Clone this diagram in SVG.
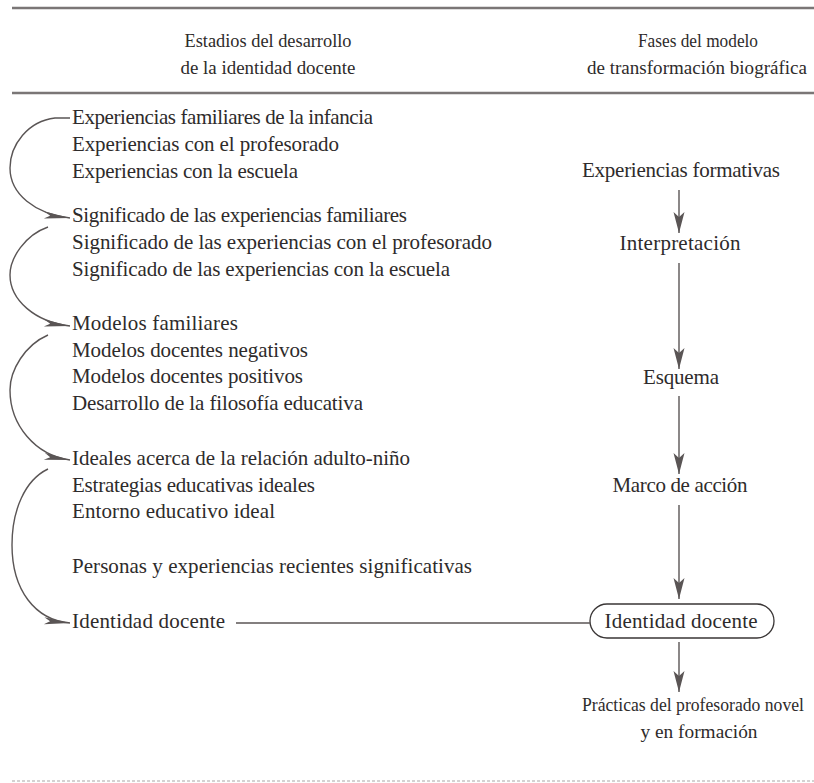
<svg xmlns="http://www.w3.org/2000/svg" width="814" height="783" viewBox="0 0 814 783">
<defs>
<style>
text{font-family:"Liberation Serif","DejaVu Serif",serif;font-size:21px;fill:#2e2b2b}
.h{font-size:19.5px}
.p{font-size:18px}
.c{text-anchor:middle}
.rule{stroke:#7a7676;stroke-width:2.5}
.ln{fill:none;stroke:#5a5555;stroke-width:1.4}
</style>
<marker id="ah" markerUnits="userSpaceOnUse" markerWidth="24" markerHeight="14" viewBox="-22 -7 24 14" refX="0" refY="0" orient="auto">
<path d="M0,0 L-21,-5.5 L-16,0 L-21,5.5 Z" fill="#5a5555"/>
</marker>
<marker id="ahc" markerUnits="userSpaceOnUse" markerWidth="30" markerHeight="10" viewBox="-28 -5 30 10" refX="0" refY="0" orient="auto">
<path d="M0,0 L-26,-3.5 L-20,0 L-26,3.5 Z" fill="#5a5555"/>
</marker>
</defs>
<rect width="814" height="783" fill="#ffffff"/>
<line class="rule" x1="12" y1="8" x2="814" y2="8"/>
<line class="rule" x1="12" y1="93" x2="814" y2="93"/>
<line x1="12" y1="781" x2="814" y2="781" stroke="#c8c4c4" stroke-width="1.5" stroke-dasharray="3 2"/>
<g id="header-left">
<text class="c h" x="268" y="47" textLength="167" lengthAdjust="spacingAndGlyphs">Estadios del desarrollo</text>
<text class="c h" x="268" y="74" textLength="175" lengthAdjust="spacingAndGlyphs">de la identidad docente</text>
</g>
<g id="header-right">
<text class="c h" x="698" y="47" textLength="120" lengthAdjust="spacingAndGlyphs">Fases del modelo</text>
<text class="c h" x="697" y="74" textLength="220" lengthAdjust="spacingAndGlyphs">de transformación biográfica</text>
</g>
<g id="stage-experiencias">
<text x="72" y="124" textLength="301">Experiencias familiares de la infancia</text>
<text x="72" y="151" textLength="267">Experiencias con el profesorado</text>
<text x="72" y="178" textLength="226">Experiencias con la escuela</text>
</g>
<g id="stage-significado">
<text x="72" y="222" textLength="335">Significado de las experiencias familiares</text>
<text x="72" y="249" textLength="420">Significado de las experiencias con el profesorado</text>
<text x="72" y="276" textLength="378">Significado de las experiencias con la escuela</text>
</g>
<g id="stage-modelos">
<text x="72" y="330" textLength="166">Modelos familiares</text>
<text x="72" y="357" textLength="236">Modelos docentes negativos</text>
<text x="72" y="383" textLength="231">Modelos docentes positivos</text>
<text x="72" y="410" textLength="291">Desarrollo de la filosofía educativa</text>
</g>
<g id="stage-ideales">
<text x="72" y="465" textLength="338">Ideales acerca de la relación adulto-niño</text>
<text x="72" y="492" textLength="243">Estrategias educativas ideales</text>
<text x="72" y="518" textLength="203">Entorno educativo ideal</text>
</g>
<g id="stage-personas">
<text x="72" y="573" textLength="400">Personas y experiencias recientes significativas</text>
</g>
<g id="stage-identidad">
<text x="72" y="628" textLength="153">Identidad docente</text>
</g>
<g id="phase-experiencias"><text class="c" x="681" y="177" textLength="198">Experiencias formativas</text></g>
<g id="phase-interpretacion"><text class="c" x="680" y="250" textLength="121">Interpretación</text></g>
<g id="phase-esquema"><text class="c" x="681" y="384" textLength="76">Esquema</text></g>
<g id="phase-marco"><text class="c" x="680" y="492" textLength="135">Marco de acción</text></g>
<g id="phase-identidad">
<rect x="590" y="604" width="184" height="34" rx="17" fill="none" stroke="#3a3636" stroke-width="1.3"/>
<text class="c" x="681" y="628" textLength="153">Identidad docente</text>
</g>
<g id="phase-practicas">
<text class="c p" x="693" y="711" textLength="222" lengthAdjust="spacingAndGlyphs">Prácticas del profesorado novel</text>
<text class="c p" x="699" y="738" textLength="117" lengthAdjust="spacingAndGlyphs">y en formación</text>
</g>
<g id="connectors">
<line class="ln" x1="679" y1="190" x2="679" y2="233" marker-end="url(#ah)"/>
<line class="ln" x1="679" y1="263" x2="679" y2="369" marker-end="url(#ah)"/>
<line class="ln" x1="679" y1="396" x2="679" y2="474" marker-end="url(#ah)"/>
<line class="ln" x1="679" y1="505" x2="679" y2="599" marker-end="url(#ah)"/>
<line class="ln" x1="679" y1="642" x2="679" y2="692" marker-end="url(#ah)"/>
<line class="ln" x1="236" y1="623" x2="590" y2="623"/>
<path class="ln" d="M70,118 H55 C28,121 10,145 10,168 C10,194 35,214 70,218" marker-end="url(#ahc)"/>
<path class="ln" d="M48,227 C25,235 10,258 10,275 C10,300 35,322 70,326" marker-end="url(#ahc)"/>
<path class="ln" d="M48,335 C25,345 10,370 10,390 C10,425 35,455 70,460" marker-end="url(#ahc)"/>
<path class="ln" d="M48,469 C25,480 12,510 12,545 C12,590 35,620 70,623" marker-end="url(#ahc)"/>
</g>
</svg>
